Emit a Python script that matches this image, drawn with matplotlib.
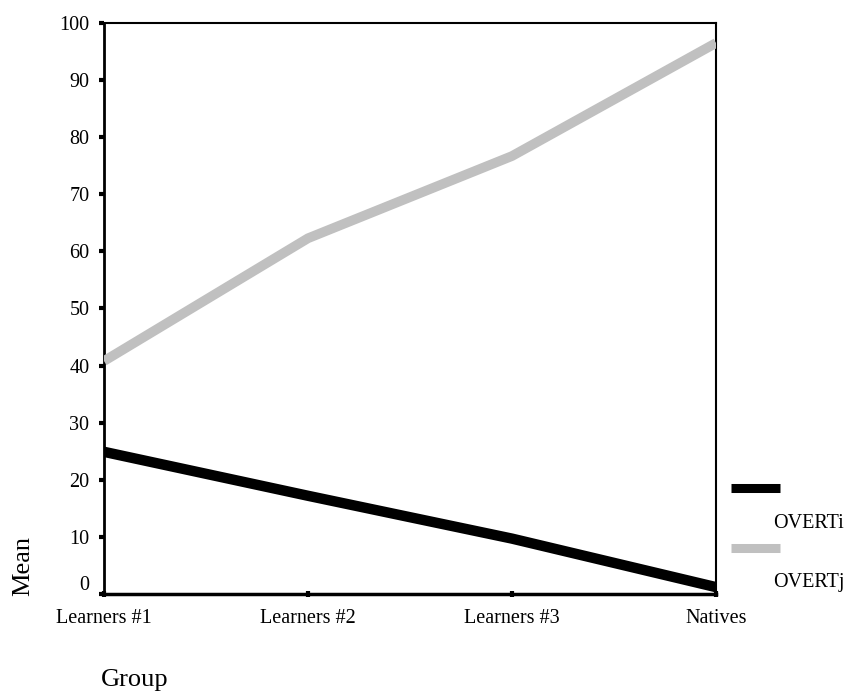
import matplotlib
matplotlib.use("Agg")
import matplotlib.pyplot as plt
import matplotlib.transforms as mtransforms
from matplotlib.lines import Line2D

plt.rcParams['font.family'] = ['Liberation Serif', 'DejaVu Serif']

groups = ["Learners #1", "Learners #2", "Learners #3", "Natives"]
overt_i = [24.9, 17.2, 9.7, 1.2]
overt_j = [40.8, 62.3, 76.7, 96.5]
series_names = ["OVERTi", "OVERTj"]
yticks = list(range(0, 101, 10))

W, H = 849, 693
fig = plt.figure(figsize=(W / 100, H / 100), dpi=100)
ax = fig.add_axes([104 / W, 1 - 594 / H, (716 - 104) / W, (594 - 23) / H])

x = list(range(len(groups)))
ax.plot(x, overt_j, color="#c0c0c0", lw=7, solid_capstyle="butt", solid_joinstyle="miter", zorder=3)
ax.plot(x, overt_i, color="black", lw=7.5, solid_capstyle="butt", solid_joinstyle="miter", zorder=3)

ax.set_xlim(0, len(groups) - 1)
ax.set_ylim(0, 100)
ax.set_xticks(x)
ax.set_xticklabels(groups, fontsize=14.5)
ax.set_yticks(yticks)
ax.set_yticklabels([str(t) for t in yticks], fontsize=14.5)
ax.tick_params(axis="y", direction="out", length=3.5, width=3, pad=7)
ax.tick_params(axis="x", direction="inout", length=4, width=3, pad=9)

for s in ["top", "right"]:
    ax.spines[s].set_linewidth(1.5)
ax.spines["left"].set_linewidth(2)
ax.spines["bottom"].set_linewidth(2.5)

# shift the "0" label upward like the reference
lbl0 = ax.get_yticklabels()[0]
lbl0.set_transform(lbl0.get_transform() + mtransforms.ScaledTranslation(0, 11 / 100, fig.dpi_scale_trans))

fig.text(23 / W, 1 - 566 / H, "Mean", rotation=90, fontsize=19, ha="center", va="center")
fig.text(135 / W, 1 - 680 / H, "Group", fontsize=19, ha="center", va="center")

# legend drawn manually
colors = ["black", "#c0c0c0"]
sw_y = [488, 548]
txt_y = [523, 583]
for name, c, sy, ty in zip(series_names, colors, sw_y, txt_y):
    fig.add_artist(Line2D([731 / W, 780 / W], [1 - sy / H, 1 - sy / H], color=c, lw=6.5,
                          solid_capstyle="butt", transform=fig.transFigure))
    fig.text(773 / W, 1 - ty / H, name, fontsize=14.5, ha="left", va="center")

fig.savefig("out.png", dpi=100)
